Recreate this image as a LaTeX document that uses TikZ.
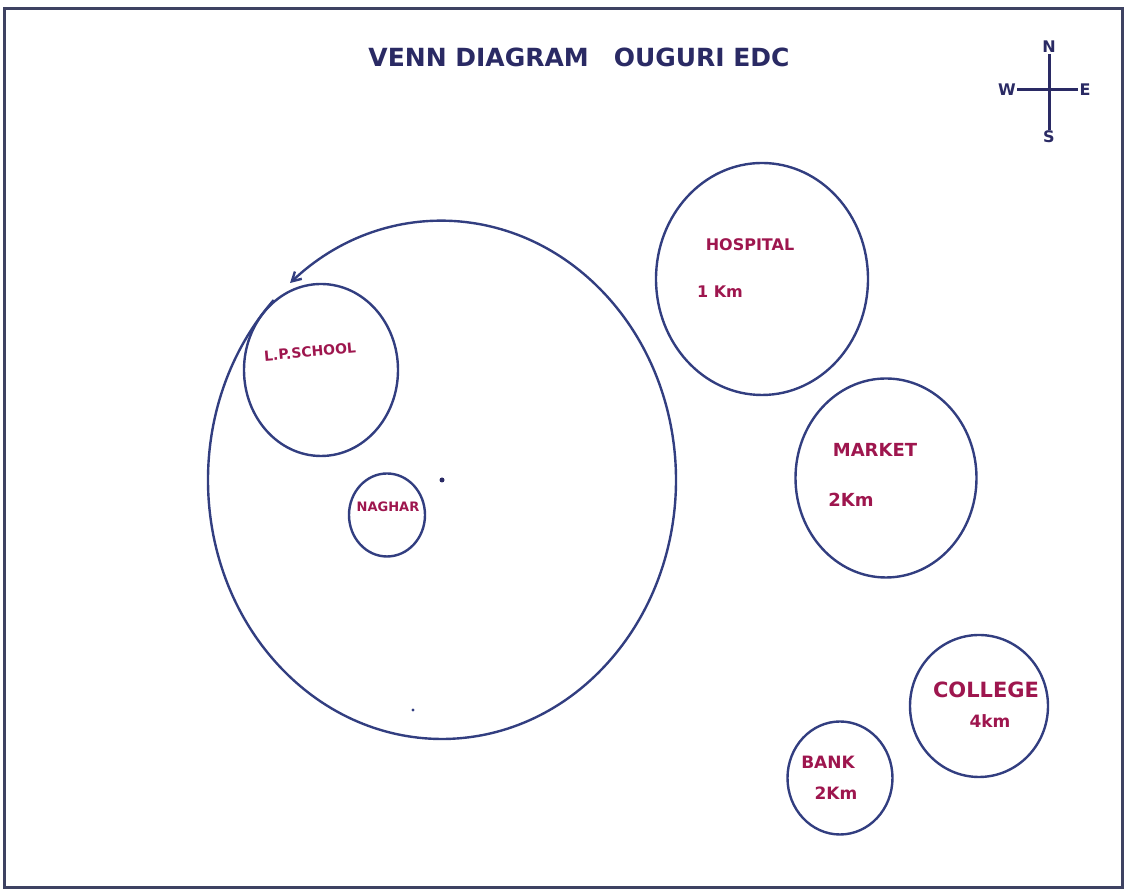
\documentclass[tikz,border=0pt]{standalone}
\usepackage{fontspec}
\setmainfont{DejaVu Sans}
\usetikzlibrary{arrows.meta,calc,positioning,shapes.geometric}
\definecolor{ink}{RGB}{50,62,128}
\definecolor{titleink}{RGB}{42,42,100}
\definecolor{placeink}{RGB}{158,22,78}
\definecolor{frameink}{RGB}{62,66,98}
\tikzset{
  area/.style      = {draw=ink, ellipse, line width=2.4pt, inner sep=0pt},
  placetext/.style = {text=placeink, font=\bfseries\fontsize{#1}{#1}\selectfont, inner sep=0pt},
  placetext/.default = 16,
  compass/.style   = {text=titleink, font=\bfseries\fontsize{16}{16}\selectfont, inner sep=1pt},
  line/.style      = {draw=titleink, line width=3pt},
}

\begin{document}
\begin{tikzpicture}[x=1pt, y=1pt, node distance=20pt]
    \useasboundingbox (0,0) rectangle (1125,893);
    % Frame and title
    \draw[frameink, line width=3pt] (4,5) rectangle (1122,884);
    \node[text=titleink, font=\bfseries\fontsize{25}{25}\selectfont] (title) at (579,836) {VENN DIAGRAM\quad OUGURI EDC};

    % Compass
    \node[compass] (north) at (1049,846) {N};
    \node[compass] (south) at (1049,756) {S};
    \node[compass] (west) at (1007,803) {W};
    \node[compass] (east) at (1085,803) {E};
    \draw[line] (north.south) -- (south.north);
    \draw[line] (west.east) -- (east.west);

    % Village and the places inside it
    \coordinate (town) at (442,413);
    \draw[ink, line width=2.4pt, -{Straight Barb[length=9pt, width=10pt]}]
      ($(town)+(136:234pt and 259pt)$) arc[start angle=136, end angle=490.5, x radius=234pt, y radius=259pt];
    \fill[titleink] (town) circle (2.5pt);
    \node[fill=ink, circle, inner sep=1.2pt] (speck) at (413,183) {};

    \node[area, minimum width=154pt, minimum height=172pt] (school) at (321,523) {};
    \node[placetext=14, rotate=5] (schoollabel) at (310,541) {L.P.SCHOOL};

    \node[area, minimum width=76pt, minimum height=83pt] (naghar) at (387,378) {};
    \node[placetext=13] (nagharlabel) at (388,386) {NAGHAR};

    % Places outside
    \node[area, minimum width=212pt, minimum height=232pt] (hospital) at (762,614) {};
    \node[placetext] (hosplabel) at (750,648) {HOSPITAL};
    \node[placetext, below=34pt of hosplabel, xshift=-30pt] (hospdist) {1 Km};

    \node[area, minimum width=181pt, minimum height=199pt] (market) at (886,415) {};
    \node[placetext=18] (marketlabel) at (875,443) {MARKET};
    \node[placetext=18, below=36pt of marketlabel, xshift=-24pt] (marketdist) {2Km};

    \node[area, minimum width=138pt, minimum height=142pt] (college) at (979,187) {};
    \node[placetext=21] (collegelabel) at (986,203) {COLLEGE};
    \node[placetext=17, below=16pt of collegelabel, xshift=4pt] (collegedist) {4km};

    \node[area, minimum width=105pt, minimum height=113pt] (bank) at (840,115) {};
    \node[placetext=17] (banklabel) at (828,131) {BANK};
    \node[placetext=17, below=18pt of banklabel, xshift=8pt] (bankdist) {2Km};
\end{tikzpicture}
\end{document}
